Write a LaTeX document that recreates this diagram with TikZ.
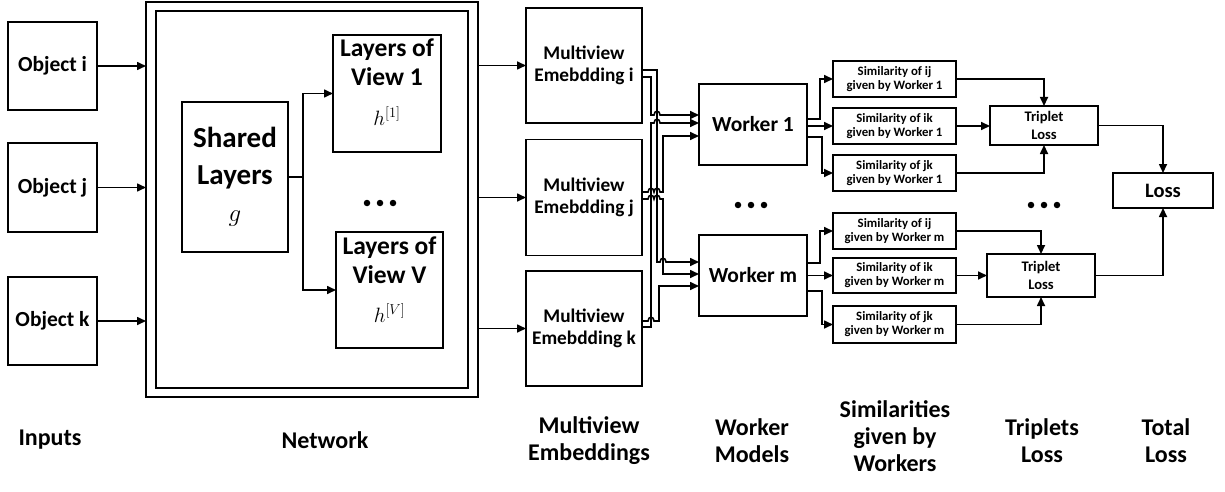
\documentclass[tikz,border=0pt]{standalone}
\usepackage{fontspec}
\setmainfont{Carlito}
\usetikzlibrary{arrows.meta}
\newcommand{\setfs}[2]{\fontsize{#1}{#2}\selectfont}
\begin{document}
\begin{tikzpicture}[x=1pt,y=-1pt,
  line width=1.6pt,
  box/.style={draw, line width=1.8pt, inner sep=0pt, outer sep=0pt, align=center},
  arr/.style={-{Triangle[length=9pt,width=8pt]}, line width=1.6pt},
  hop/.style 2 args={insert path={-- ({#1-3},#2) .. controls ({#1-3},{#2-5}) and ({#1+3},{#2-5}) .. ({#1+3},#2)}},
  objf/.style={font=\bfseries\setfs{21.5}{26}},
  embf/.style={font=\bfseries\setfs{19.3}{22}},
  simf/.style={font=\bfseries\setfs{12.8}{14}},
  labf/.style={font=\bfseries\setfs{24}{27}, align=center, inner sep=0pt},
  dot/.style={circle, fill, inner sep=0pt, minimum size=6.5pt},
]
\useasboundingbox (0,0) rectangle (1225,492);

% inputs
\node[box, objf, minimum width=89pt, minimum height=88pt] (oi) at (52.5,66) {Object i};
\node[box, objf, minimum width=89pt, minimum height=89pt] (oj) at (52.5,187.5) {Object j};
\node[box, objf, minimum width=89pt, minimum height=88pt] (ok) at (52.5,321) {Object k};

% network
\node[box, minimum width=332pt, minimum height=395pt] (net) at (312,199.5) {};
\node[box, minimum width=312pt, minimum height=377pt] (neti) at (312,199.5) {};
\node[box, font=\bfseries\setfs{29}{37}, minimum width=106pt, minimum height=150pt] (sh) at (235,177) {Shared\\Layers\\$g$};
\node[box, minimum width=108pt, minimum height=117pt] (v1) at (387,93.5) {};
\node[font=\bfseries\setfs{25.5}{29}, align=center, inner sep=0pt] (v1t) at (387,62.5) {Layers of\\View 1};
\node[font=\setfs{21}{24}, inner sep=0pt] (v1h) at (387,116) {$h^{[1]}$};
\node[box, minimum width=107pt, minimum height=116pt] (vv) at (389.5,290) {};
\node[font=\bfseries\setfs{25.5}{29}, align=center, inner sep=0pt] (vvt) at (389.5,260.5) {Layers of\\View V};
\node[font=\setfs{21}{24}, inner sep=0pt] (vvh) at (389.5,313) {$h^{[V]}$};
\node[dot] (nd1) at (367,203) {};
\node[dot] (nd2) at (380,203) {};
\node[dot] (nd3) at (393,203) {};
\coordinate (br) at (303,177);

% embeddings
\node[box, embf, minimum width=116pt, minimum height=115pt] (e1) at (584,65.5) {Multiview\\Emebdding i};
\node[box, embf, minimum width=116pt, minimum height=116pt] (e2) at (584,197.5) {Multiview\\Emebdding j};
\node[box, embf, minimum width=116pt, minimum height=115pt] (e3) at (584,328.5) {Multiview\\Emebdding k};

% workers
\node[box, objf, minimum width=108pt, minimum height=81pt] (w1) at (753,124.5) {Worker 1};
\node[box, objf, minimum width=108pt, minimum height=81pt] (wm) at (753,275.5) {Worker m};
\node[dot] (wd1) at (738,205) {};
\node[dot] (wd2) at (751,205) {};
\node[dot] (wd3) at (764,205) {};

% similarities
\node[box, simf, minimum width=123pt, minimum height=36pt] (s1) at (894.5,79) {Similarity of ij\\given by Worker 1};
\node[box, simf, minimum width=123pt, minimum height=36pt] (s2) at (894.5,126) {Similarity of ik\\given by Worker 1};
\node[box, simf, minimum width=123pt, minimum height=36pt] (s3) at (894.5,173) {Similarity of jk\\given by Worker 1};
\node[box, simf, minimum width=123pt, minimum height=36pt] (m1) at (894.5,231) {Similarity of ij\\given by Worker m};
\node[box, simf, minimum width=123pt, minimum height=35pt] (m2) at (894.5,275.5) {Similarity of ik\\given by Worker m};
\node[box, simf, minimum width=123pt, minimum height=37pt] (m3) at (894.5,324.5) {Similarity of jk\\given by Worker m};

% triplet losses
\node[box, font=\bfseries\setfs{14.6}{18}, minimum width=108pt, minimum height=39pt] (t1) at (1044,125.5) {Triplet\\Loss};
\node[box, font=\bfseries\setfs{14.6}{18}, minimum width=108pt, minimum height=43pt] (t2) at (1041,275.5) {Triplet\\Loss};
\node[dot] (td1) at (1031,205) {};
\node[dot] (td2) at (1044,205) {};
\node[dot] (td3) at (1057,205) {};
\node[box, font=\bfseries\setfs{20.5}{24}, minimum width=100pt, minimum height=35pt] (loss) at (1163,190.5) {Loss};

% bottom labels
\node[labf] (l1) at (50,440) {Inputs};
\node[labf] (l2) at (325,440) {Network};
\node[labf] (l3) at (589,441) {Multiview\\Embeddings};
\node[labf] (l4) at (752,441) {Worker\\Models};
\node[labf] (l5) at (895,436) {Similarities\\given by\\Workers};
\node[labf] (l6) at (1042,441) {Triplets\\Loss};
\node[labf] (l7) at (1166,441) {Total\\Loss};

% connectors: inputs -> network
\draw[arr] (oi.east) -- (oi.east -| net.west);
\draw[arr] (oj.east) -- (oj.east -| net.west);
\draw[arr] (ok.east) -- (ok.east -| net.west);
% inside network
\draw[arr] (sh.east) -- (br) |- (v1.west);
\draw[arr] (br) |- (vv.west);
% network -> embeddings
\draw[arr] (net.east |- e1.west) -- (e1.west);
\draw[arr] (net.east |- e2.west) -- (e2.west);
\draw[arr] (net.east |- e3.west) -- (e3.west);

% embeddings -> workers (with line jumps)
\draw[arr] (e1.east |- 0,70) -- (657,70) -- (657,262) [hop={663}{262}] -- (wm.west |- 0,262);
\draw[arr] (e1.east |- 0,77) -- (651,77) -- (651,115) [hop={657}{115}] -- (w1.west |- 0,115);
\draw[arr] (e3.east |- 0,327) -- (651,327) -- (651,123) [hop={657}{123}] -- (w1.west |- 0,123);
\draw[arr] (e2.east |- 0,192) [hop={651}{192}] [hop={657}{192}] -- (663,192) -- (663,136) -- (w1.west |- 0,136);
\draw[arr] (e2.east |- 0,199) [hop={651}{199}] [hop={657}{199}] -- (663,199) -- (663,274) -- (wm.west |- 0,274);
\draw[arr] (e3.east |- 0,321) [hop={651}{321}] -- (659,321) -- (659,286) -- (wm.west |- 0,286);

% workers -> similarities
\draw[arr] (w1.east |- 0,119) -- (820,119) |- (s1.west);
\draw[arr] (w1.east |- s2.west) -- (s2.west);
\draw[arr] (w1.east |- 0,137) -- (822,137) |- (s3.west);
\draw[arr] (wm.east |- 0,263) -- (820,263) |- (m1.west);
\draw[arr] (wm.east |- m2.west) -- (m2.west);
\draw[arr] (wm.east |- 0,291) -- (822,291) |- (m3.west);

% similarities -> triplet losses
\draw[arr] (s1.east) -| (t1.north);
\draw[arr] (s2.east) -- (s2.east -| t1.west);
\draw[arr] (s3.east) -| (t1.south);
\draw[arr] (m1.east) -| (t2.north);
\draw[arr] (m2.east) -- (m2.east -| t2.west);
\draw[arr] (m3.east) -| (t2.south);

% triplet losses -> total loss
\draw[arr] (t1.east) -| (loss.north);
\draw[arr] (t2.east) -| (loss.south);
\end{tikzpicture}
\end{document}
